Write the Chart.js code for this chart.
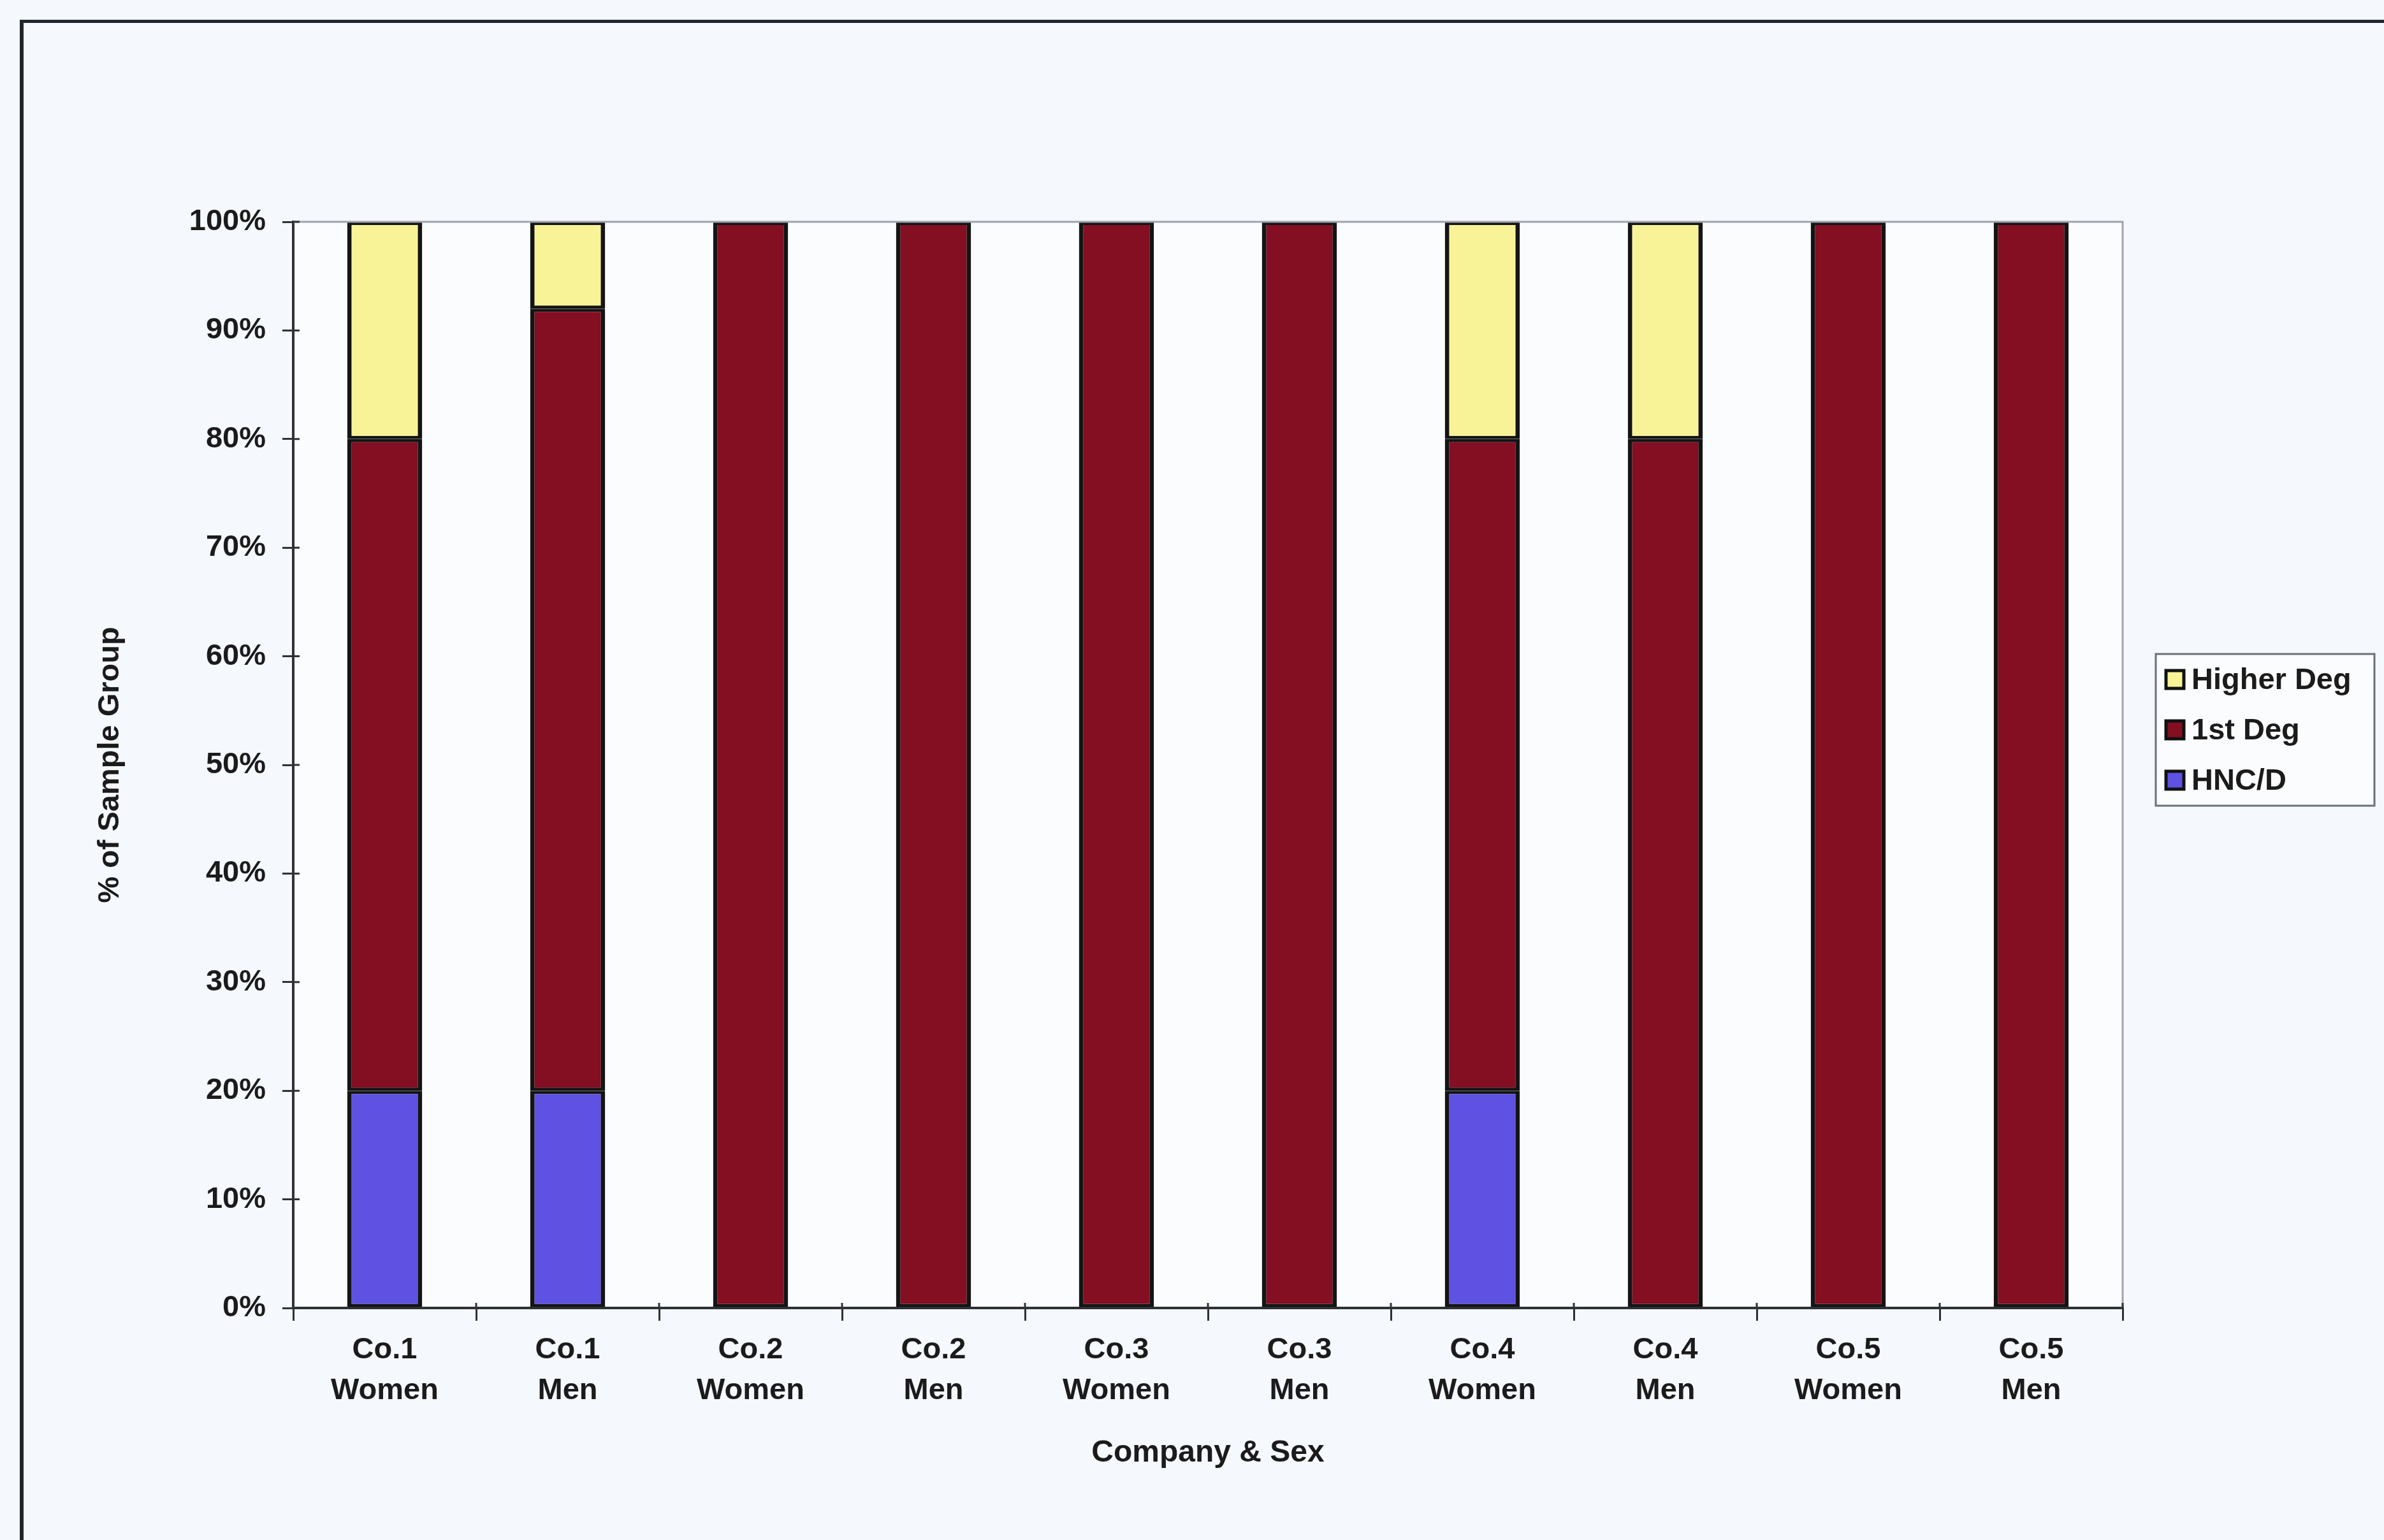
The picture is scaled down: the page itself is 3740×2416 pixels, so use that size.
<!DOCTYPE html>
<html>
<head>
<meta charset="utf-8">
<script src="https://cdn.jsdelivr.net/npm/chart.js@4.4.1/dist/chart.umd.min.js"></script>
<style>
  html, body { margin: 0; padding: 0; background: #f5f8fc; }
  #wrap { position: relative; width: 3740px; height: 2416px; }
  #frame { position: absolute; left: 31px; top: 31px; right: 0; bottom: 0;
           border-top: 5px solid #1f262e; border-left: 6px solid #1f262e; }
  canvas { position: absolute; left: 0; top: 0; }
</style>
</head>
<body>
<div id="wrap">
  <div id="frame"></div>
  <canvas id="chart" width="3740" height="2416"></canvas>
</div>
<script>
// Sample groups, two per company
const categories = [
  ['Co.1', 'Women'], ['Co.1', 'Men'],
  ['Co.2', 'Women'], ['Co.2', 'Men'],
  ['Co.3', 'Women'], ['Co.3', 'Men'],
  ['Co.4', 'Women'], ['Co.4', 'Men'],
  ['Co.5', 'Women'], ['Co.5', 'Men']
];

// Share of each sample group (%) by highest qualification
const hncd      = [20, 20, 0, 0, 0, 0, 20, 0, 0, 0];
const firstDeg  = [60, 72, 100, 100, 100, 100, 60, 80, 100, 100];
const higherDeg = [20, 8, 0, 0, 0, 0, 20, 20, 0, 0];

const seriesNames = ['HNC/D', '1st Deg', 'Higher Deg'];
const yTicks = [0, 10, 20, 30, 40, 50, 60, 70, 80, 90, 100];

const FONT = '"Liberation Sans", Arial, sans-serif';
const TEXT = '#1b1b1b';
const AXIS = '#2e3236';

// Plot frame, tick marks that cross the axes, and the boxed legend
const decorations = {
  id: 'decorations',
  beforeDraw(chart) {
    const { ctx, chartArea: a } = chart;
    ctx.save();
    ctx.fillStyle = '#fbfcfe';
    ctx.fillRect(a.left, a.top, a.right - a.left, a.bottom - a.top);
    ctx.restore();
  },
  afterDraw(chart) {
    const { ctx, chartArea: a, scales } = chart;
    ctx.save();
    // light frame on the top and right of the plot
    ctx.strokeStyle = '#9ea3ad';
    ctx.lineWidth = 3;
    ctx.beginPath();
    ctx.moveTo(a.left, a.top);
    ctx.lineTo(a.right, a.top);
    ctx.lineTo(a.right, a.bottom);
    ctx.stroke();

    // inner halves of the tick marks
    ctx.strokeStyle = AXIS;
    ctx.lineWidth = 3;
    ctx.beginPath();
    yTicks.forEach(v => {
      const y = scales.y.getPixelForValue(v);
      ctx.moveTo(a.left, y);
      ctx.lineTo(a.left + 10, y);
    });
    for (let i = 0; i <= categories.length; i++) {
      const x = scales.x.getPixelForValue(i - 0.5);
      ctx.moveTo(x, a.bottom);
      ctx.lineTo(x, a.bottom - 8);
    }
    ctx.stroke();

    // legend, top series listed first
    const lx = 3382, ly = 1026, lw = 343, lh = 238;
    ctx.fillStyle = '#fbfcfe';
    ctx.fillRect(lx, ly, lw, lh);
    ctx.strokeStyle = '#6b7078';
    ctx.lineWidth = 3;
    ctx.strokeRect(lx, ly, lw, lh);
    const ds = chart.data.datasets.slice().reverse();
    ctx.font = 'bold 47px ' + FONT;
    ctx.textBaseline = 'middle';
    ctx.textAlign = 'left';
    ds.forEach((d, i) => {
      const cy = ly + 40 + i * 79;
      ctx.fillStyle = d.backgroundColor;
      ctx.fillRect(lx + 16, cy - 14, 28, 28);
      ctx.strokeStyle = '#111';
      ctx.lineWidth = 5;
      ctx.strokeRect(lx + 16, cy - 14, 28, 28);
      ctx.fillStyle = TEXT;
      ctx.fillText(d.label, lx + 56, cy + 2);
    });
    ctx.restore();
  }
};

const colors = ['#5f52e2', '#840e22', '#f8f396'];
const values = [hncd, firstDeg, higherDeg];

new Chart(document.getElementById('chart'), {
  type: 'bar',
  data: {
    labels: categories,
    datasets: values.map((v, i) => ({
      label: seriesNames[i],
      data: v,
      backgroundColor: colors[i],
      borderColor: '#141414',
      borderWidth: { left: 7, right: 7, top: 5, bottom: 5 },
      borderSkipped: false,
      barPercentage: 0.41,
      categoryPercentage: 1.0
    }))
  },
  options: {
    responsive: false,
    animation: false,
    devicePixelRatio: 1,
    layout: { padding: { left: 141, top: 348, right: 410, bottom: 103 } },
    plugins: {
      legend: { display: false },
      tooltip: { enabled: false }
    },
    scales: {
      x: {
        stacked: true,
        offset: true,
        afterFit: s => { s.height = 261; },
        grid: {
          offset: true,
          drawOnChartArea: false,
          tickLength: 20,
          color: AXIS,
          lineWidth: 3
        },
        border: { display: true, color: AXIS, width: 4 },
        ticks: {
          color: TEXT,
          padding: 14,
          maxRotation: 0,
          autoSkip: false,
          font: { family: FONT, size: 47, weight: 'bold', lineHeight: 1.36 }
        },
        title: {
          display: true,
          text: 'Company & Sex',
          color: TEXT,
          padding: { top: 4, bottom: 4 },
          font: { family: FONT, size: 48, weight: 'bold' }
        }
      },
      y: {
        stacked: true,
        min: 0,
        max: 100,
        afterFit: s => { s.width = 319; },
        afterBuildTicks: s => { s.ticks = yTicks.map(v => ({ value: v })); },
        grid: {
          drawOnChartArea: false,
          tickLength: 17,
          color: AXIS,
          lineWidth: 3
        },
        border: { display: true, color: AXIS, width: 4 },
        ticks: {
          color: TEXT,
          padding: 26,
          callback: v => v + '%',
          font: { family: FONT, size: 47, weight: 'bold' }
        },
        title: {
          display: true,
          text: '% of Sample Group',
          color: TEXT,
          padding: { top: 4, bottom: 4 },
          font: { family: FONT, size: 47, weight: 'bold' }
        }
      }
    }
  },
  plugins: [decorations]
});
</script>
</body>
</html>
